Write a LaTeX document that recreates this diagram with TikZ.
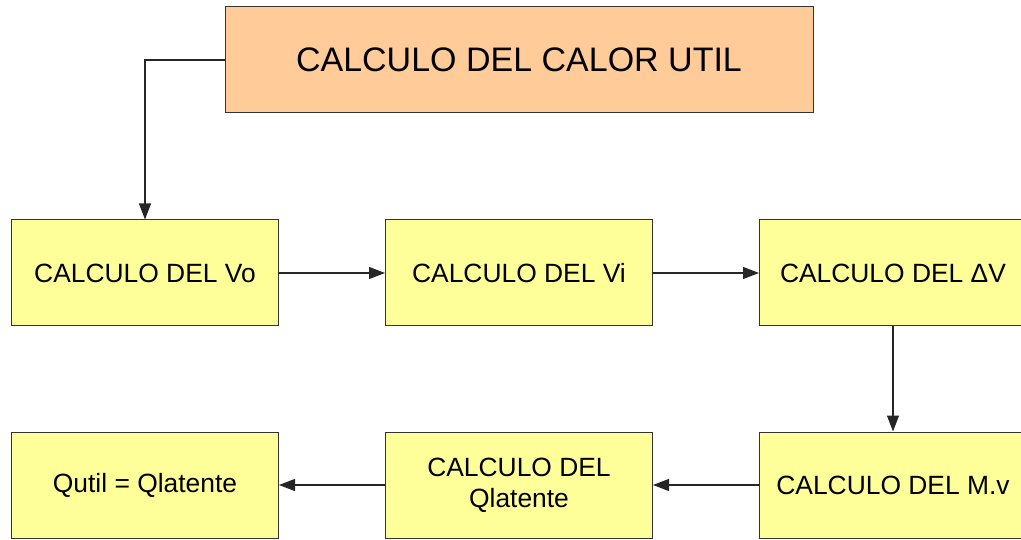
\documentclass[tikz,border=0pt]{standalone}
\usepackage{fontspec}
\setmainfont{Liberation Sans}
\usetikzlibrary{arrows.meta}
\definecolor{boxyellow}{HTML}{FFFF99}
\definecolor{boxpeach}{HTML}{FFCC99}
\begin{document}
\begin{tikzpicture}[x=1pt,y=-1pt,
  box/.style={draw=black!80,line width=1pt,fill=boxyellow,minimum width=267pt,minimum height=106pt,inner sep=0pt,font=\fontsize{26.4}{31}\selectfont,align=center},
  conn/.style={draw=black!85,line width=1.1pt,-{Triangle[length=16pt,width=12pt]}}]
\useasboundingbox (0,0) rectangle (1021,540);
\node[box,fill=boxpeach,minimum width=588pt,font=\fontsize{34}{40}\selectfont] (top) at (519,60) {CALCULO DEL CALOR UTIL};
\node[box] (vo) at (145,273) {CALCULO DEL Vo};
\node[box] (vi) at (519,273) {CALCULO DEL Vi};
\node[box] (dv) at (893,273) {CALCULO DEL ΔV};
\node[box] (mv) at (893,485) {CALCULO DEL M.v};
\node[box] (ql) at (519,485) {CALCULO DEL\\Qlatente};
\node[box] (qu) at (145,485) {Qutil = Qlatente};
\draw[conn] (top.west) -| (vo.north);
\draw[conn] (vo) -- (vi);
\draw[conn] (vi) -- (dv);
\draw[conn] (dv) -- (mv);
\draw[conn] (mv) -- (ql);
\draw[conn] (ql) -- (qu);
\end{tikzpicture}
\end{document}
